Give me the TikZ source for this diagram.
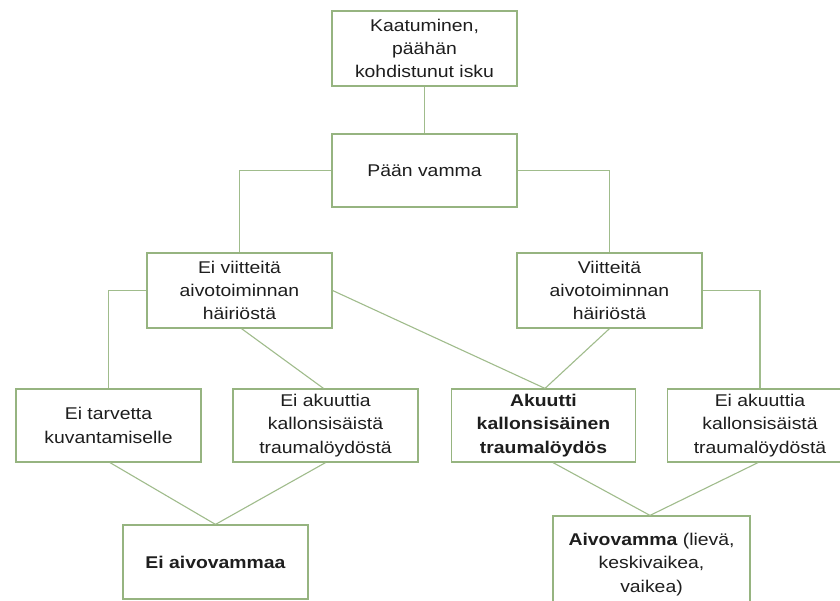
\documentclass[tikz,border=0pt]{standalone}
\usepackage{fontspec}
\setmainfont[FakeStretch=1.14]{Liberation Sans}
\definecolor{boxgreen}{RGB}{150,180,128}
\definecolor{linegreen}{RGB}{160,188,140}
\definecolor{txt}{RGB}{30,30,30}
\tikzset{
  box/.style={draw=boxgreen, line width=1.2pt, rectangle, inner sep=0pt,
    minimum width=185pt, minimum height=74pt, align=center, text=txt,
    font=\fontsize{17pt}{23.3pt}\selectfont},
  conn/.style={draw=linegreen, line width=1.1pt}
}
\begin{document}
\begin{tikzpicture}[x=1pt,y=-1pt]
\useasboundingbox (0,0) rectangle (840,600);
\clip (0,0) rectangle (840,600);
\fill[white] (0,0) rectangle (840,600);
\node[box, minimum height=75pt] (top) at (424.5,48.5) {Kaatuminen,\\päähän\\kohdistunut isku};
\node[box, minimum height=73pt] (pv) at (424.5,170.5) {Pään vamma};
\node[box, minimum height=75pt] (ev) at (239.5,290.5) {Ei viitteitä\\aivotoiminnan\\häiriöstä};
\node[box, minimum height=75pt] (v) at (609.5,290.5) {Viitteitä\\aivotoiminnan\\häiriöstä};
\node[box, minimum height=73pt] (et) at (108.5,425.5) {Ei tarvetta\\kuvantamiselle};
\node[box, minimum height=73pt] (eal) at (325.5,425.5) {Ei akuuttia\\kallonsisäistä\\traumalöydöstä};
\node[box, minimum height=73pt, minimum width=184pt] (ak) at (543.5,425.5) {\textbf{Akuutti}\\\textbf{kallonsisäinen}\\\textbf{traumalöydös}};
\node[box, minimum height=73pt] (ear) at (760,425.5) {Ei akuuttia\\kallonsisäistä\\traumalöydöstä};
\node[box, minimum height=74pt] (ea) at (215.5,562) {\textbf{Ei aivovammaa}};
\node[box, minimum height=97pt, minimum width=197pt] (av) at (651.5,564.5) {\textbf{Aivovamma} (lievä,\\keskivaikea,\\vaikea)};
\draw[conn] (top.south) -- (pv.north);
\draw[conn] (pv.west) -| (ev.north);
\draw[conn] (pv.east) -| (v.north);
\draw[conn] (ev.west) -| (et.north);
\draw[conn] ([xshift=2pt]ev.south) -- ([xshift=-2pt]eal.north);
\draw[conn] (ev.east) -- ([xshift=1.5pt]ak.north);
\draw[conn] (v.south) -- ([xshift=1.5pt]ak.north);
\draw[conn] (v.east) -| (ear.north);
\draw[conn] ([xshift=1.5pt]et.south) -- (ea.north);
\draw[conn] (eal.south) -- (ea.north);
\draw[conn] ([xshift=9.5pt]ak.south) -- ([xshift=-1.5pt]av.north);
\draw[conn] ([xshift=-2pt]ear.south) -- ([xshift=-1.5pt]av.north);
\end{tikzpicture}
\end{document}
